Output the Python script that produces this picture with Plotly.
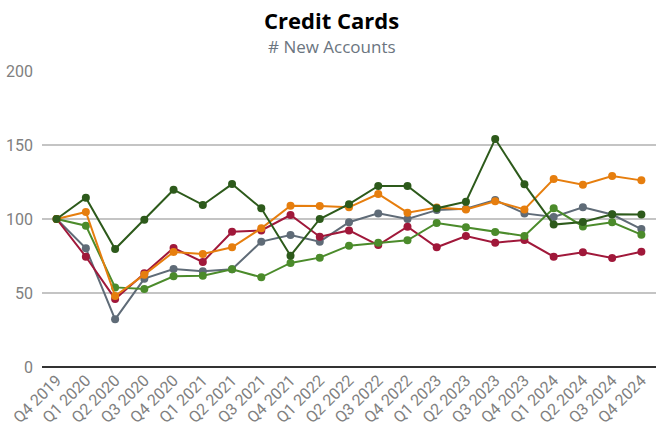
import plotly.graph_objects as go

quarters = ["Q4 2019", "Q1 2020", "Q2 2020", "Q3 2020", "Q4 2020", "Q1 2021", "Q2 2021",
            "Q3 2021", "Q4 2021", "Q1 2022", "Q2 2022", "Q3 2022", "Q4 2022", "Q1 2023",
            "Q2 2023", "Q3 2023", "Q4 2023", "Q1 2024", "Q2 2024", "Q3 2024", "Q4 2024"]

dark_green = [100, 114.4, 79.7, 99.5, 119.8, 109.5, 123.6, 107.2, 75.2, 100, 110, 122.3, 122.3,
              107.2, 111.7, 154, 123.4, 96.2, 98, 103.2, 103]
orange = [100, 104.7, 48, 62.4, 77.7, 76.4, 80.9, 93.7, 109, 108.8, 107.9, 116.9, 104.3,
          107.7, 106.5, 112, 106.5, 127, 123.2, 129, 126.1]
gray = [100, 80.2, 32.2, 59.7, 66.2, 64.7, 66, 84.7, 89.2, 84.7, 97.8, 103.8, 100,
        106, 107, 112.8, 103.8, 101.4, 107.9, 103, 93.2]
red = [100, 74.5, 46, 63.3, 80.4, 71, 91.4, 92.3, 102.7, 88, 92.3, 82.4, 94.8,
       80.9, 88.5, 84, 85.8, 74.5, 77.5, 73.6, 77.9]
green = [100, 95.5, 53.8, 52.7, 61.3, 61.7, 66, 60.6, 70.3, 73.9, 82, 84, 85.6,
         97.3, 94.4, 91.2, 88.5, 107.2, 95, 97.8, 89.4]

series = [
    ("Series A", gray, "#5f6b77"),
    ("Series B", red, "#a0183a"),
    ("Series C", green, "#4b8b2b"),
    ("Series D", orange, "#e67e0e"),
    ("Series E", dark_green, "#2d5a1b"),
]

fig = go.Figure()
for name, vals, col in series:
    fig.add_trace(go.Scatter(
        x=quarters, y=vals, mode="lines+markers", name=name,
        line=dict(color=col, width=2),
        marker=dict(color=col, size=8),
    ))

L, T, W, H = 42, 71, 614, 296

fig.update_layout(
    width=663, height=432,
    margin=dict(l=L, r=663 - L - W, t=T, b=432 - T - H, autoexpand=False),
    paper_bgcolor="white", plot_bgcolor="white",
    showlegend=False,
    font=dict(family="Roboto, sans-serif", color="#757575"),
)
fig.add_annotation(text="<b>Credit Cards</b>", xref="paper", yref="paper",
                   x=(331.5 - L) / W, y=(T + H - 20) / H, xanchor="center", yanchor="middle",
                   showarrow=False,
                   font=dict(family="Open Sans, sans-serif", size=22, color="#000000"))
fig.add_annotation(text="# New Accounts", xref="paper", yref="paper",
                   x=(331.5 - L) / W, y=(T + H - 46) / H, xanchor="center", yanchor="middle",
                   showarrow=False,
                   font=dict(family="Open Sans, sans-serif", size=17, color="#6b7580"))

fig.update_xaxes(
    type="category", range=[-0.5, 20.5], tickangle=-45, automargin=False,
    showgrid=False, showline=False, ticks="",
    tickfont=dict(family="Roboto, sans-serif", size=16, color="#808080"),
)
fig.update_yaxes(
    range=[0, 200], tickvals=[0, 50, 100, 150, 200], automargin=False,
    showgrid=True, gridcolor="#c4c4c4", gridwidth=2,
    zeroline=True, zerolinecolor="#333333", zerolinewidth=2,
    ticks="", ticklabelstandoff=8,
    tickfont=dict(family="Roboto, sans-serif", size=16, color="#808080"),
)

fig.write_html("out.html", config={"displayModeBar": False},
               post_script="document.body.style.margin='0';document.body.style.overflow='hidden';")
